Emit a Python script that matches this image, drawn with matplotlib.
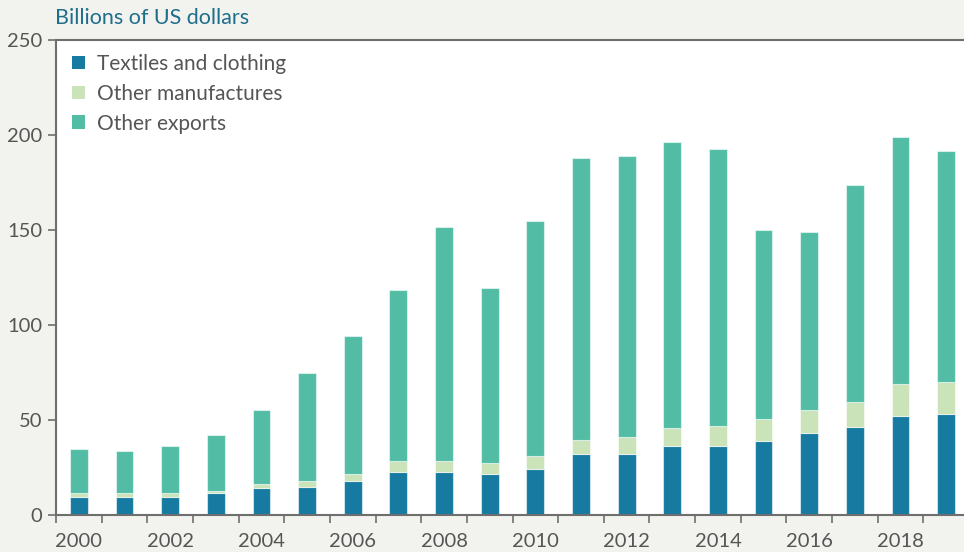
import matplotlib.pyplot as plt
from matplotlib.patches import Patch
import numpy as np

plt.rcParams['font.family'] = ['Lato', 'DejaVu Sans']

years = list(range(2000, 2020))
textiles = [9.6, 9.6, 9.6, 11.4, 14.4, 15.0, 18.0, 22.5, 22.5, 21.7,
            24.4, 31.9, 31.9, 36.3, 36.3, 39.1, 43.0, 46.5, 52.3, 53.3]
other_manuf = [2.0, 2.0, 2.0, 1.2, 1.9, 2.9, 3.7, 5.8, 5.8, 5.7,
               6.6, 7.4, 9.2, 9.5, 10.5, 11.4, 12.1, 13.1, 16.7, 16.7]
other_exports = [23.1, 22.1, 24.9, 29.4, 38.7, 56.8, 72.5, 90.1, 123.4, 91.9,
                 123.6, 148.4, 147.7, 150.4, 145.7, 99.3, 93.7, 114.3, 130.0, 121.4]
labels = ["Textiles and clothing", "Other manufactures", "Other exports"]
colors = ["#167aa1", "#cbe3b8", "#52bda4"]

bg = "#f2f2ee"
txt = "#555555"
spine = "#6e6e6e"

fig = plt.figure(figsize=(9.64, 5.52), dpi=100, facecolor=bg)
ax = fig.add_axes([56 / 964, 37 / 552, 1 - 56 / 964, 475 / 552])
ax.set_facecolor("white")

x = np.arange(len(years))
w = 0.39
edge = (1, 1, 1, 0.55)
bottom = np.zeros(len(years))
for vals, c in zip([textiles, other_manuf, other_exports], colors):
    ax.bar(x, vals, w, bottom=bottom, color=c, edgecolor=edge, linewidth=0.8)
    bottom += np.array(vals)

ax.set_xlim(-0.48, 19.39)
ax.set_ylim(0, 250)

# labels on even years, tick marks between bars
ax.set_xticks(x[::2])
ax.set_xticklabels([str(y) for y in years[::2]])
ax.set_xticks(np.arange(-0.5, 19.5, 1.0), minor=True)
ax.tick_params(axis='x', which='major', length=0, pad=13, labelsize=14.5, labelcolor=txt)
ax.tick_params(axis='x', which='minor', length=6, width=1.2, color=spine)
ax.set_yticks(range(0, 251, 50))
ax.tick_params(axis='y', length=6, width=1.2, color=spine, labelsize=14.5,
               labelcolor=txt, pad=4)

for s in ['left', 'bottom', 'top']:
    ax.spines[s].set_color(spine)
    ax.spines[s].set_linewidth(1.5)
ax.spines['right'].set_visible(False)

fig.text(55 / 964, 1 - 18 / 552, "Billions of US dollars", color="#1e6e8c",
         fontsize=15.5, va='center', ha='left')

handles = [Patch(facecolor=c, edgecolor='none') for c in colors]
ax.legend(handles, labels, loc='upper left', bbox_to_anchor=(16 / 908, 1 - 14 / 475),
          borderaxespad=0, borderpad=0, frameon=False, fontsize=15,
          labelcolor=txt, handlelength=0.63, handleheight=0.63,
          handletextpad=0.58, labelspacing=0.47)

fig.savefig("out.png", dpi=100, facecolor=bg)
